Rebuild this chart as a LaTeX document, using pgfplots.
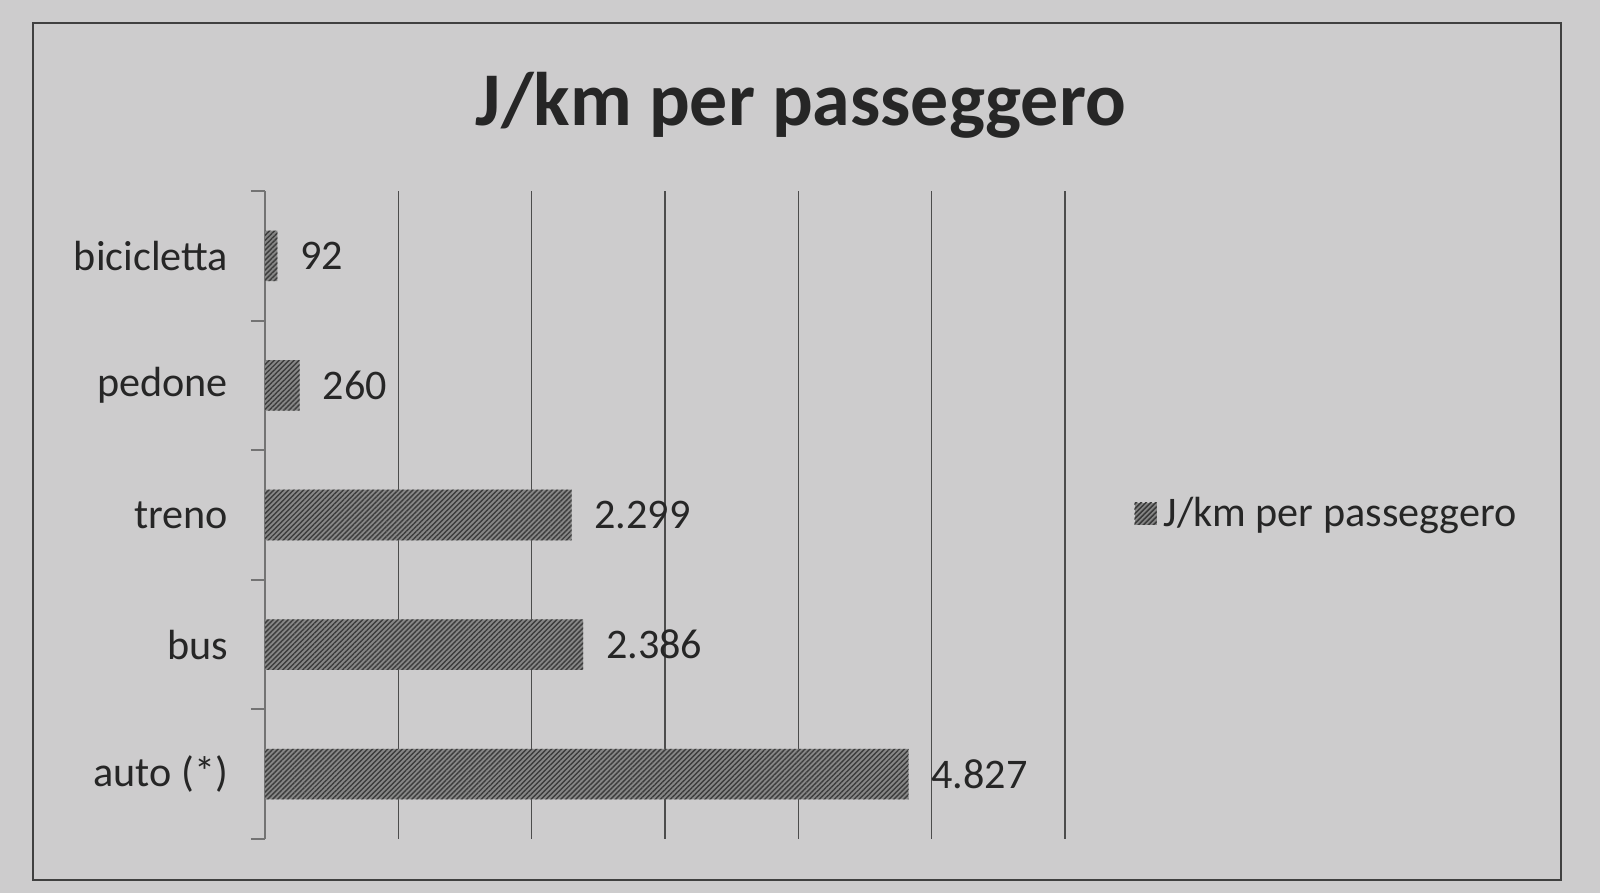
\documentclass[border=0pt]{standalone}
\usepackage{pgfplots}
\pgfplotsset{compat=1.18}
\usepackage{fontspec}
\setmainfont{Carlito}
\usetikzlibrary{patterns.meta}
\definecolor{bg}{RGB}{205,204,205}
\definecolor{barfill}{RGB}{135,135,135}
\definecolor{hatch}{RGB}{60,60,60}
\begin{document}
\begin{tikzpicture}
\fill[bg] (0,0) rectangle (16,8.93);
\draw[line width=0.8pt, black!75] (0.33,0.13) rectangle (15.61,8.70);
\node[font=\fontsize{21.6}{26}\selectfont\bfseries, text=black!85] at (8.01,7.88) {J/km per passeggero};
\begin{axis}[
  at={(2.65cm,0.54cm)}, anchor=south west,
  width=8cm, height=6.48cm, scale only axis,
  xmin=0, xmax=6000, ymin=-0.5, ymax=4.5,
  xbar, bar width=0.39,
  axis lines*=left,
  x axis line style={draw=none},
  y axis line style={draw=black!55, line width=0.8pt},
  xtick={0,1000,...,6000}, xticklabels={}, xtick style={draw=none},
  xmajorgrids, major grid style={black!70, line width=0.4pt},
  ytick={-0.5,0.5,1.5,2.5,3.5,4.5},
  yticklabels={auto (*),bus,treno,pedone,bicicletta,},
  y tick label as interval,
  ytick style={draw=black!55, line width=0.6pt},
  major tick length=4pt, tick align=outside,
  yticklabel style={font=\fontsize{12}{14}\selectfont, text=black!85, xshift=-3pt},
  nodes near coords,
  nodes near coords style={font=\fontsize{12}{14}\selectfont, text=black!85, xshift=3pt, /pgf/number format/1000 sep={.}, /pgf/number format/assume math mode=true},
  legend style={at={(1.073,0.5)}, anchor=west, draw=none, fill=none, font=\fontsize{12}{14}\selectfont, text=black!85},
  legend image code/.code={\fill[barfill, postaction={pattern={Lines[angle=45,distance=1pt,line width=0.4pt]}, pattern color=hatch}] (0cm,-0.1cm) rectangle (0.22cm,0.12cm);},
]
\addplot[draw=none, fill=barfill, postaction={pattern={Lines[angle=45,distance=1pt,line width=0.4pt]}, pattern color=hatch}] coordinates {(4827,0) (2386,1) (2299,2) (260,3) (92,4)};
\addlegendentry{J/km per passeggero}
\end{axis}
\end{tikzpicture}
\end{document}
